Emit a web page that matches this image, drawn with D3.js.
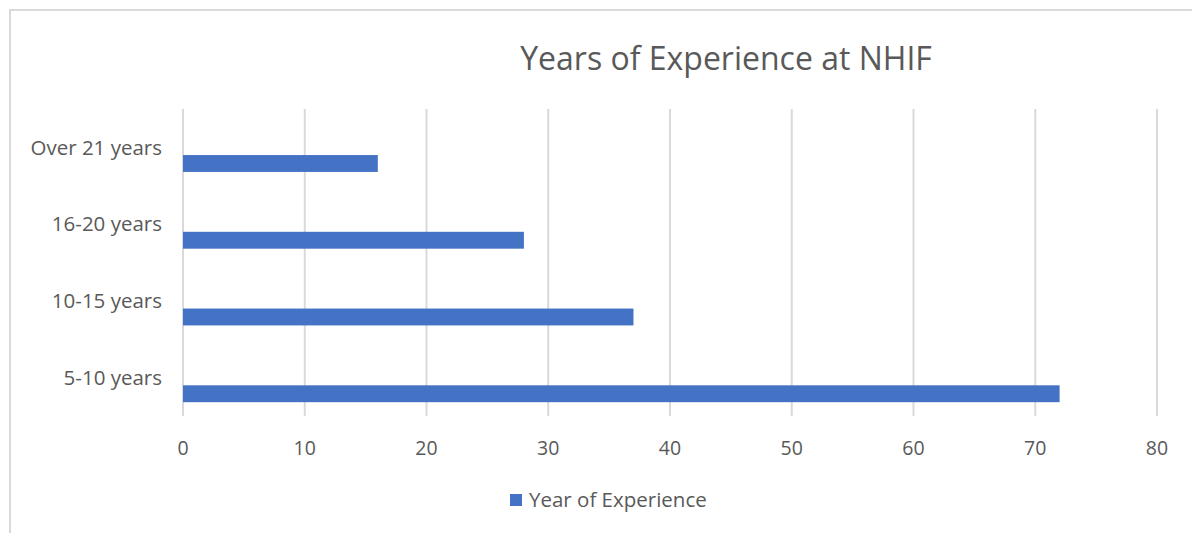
<!DOCTYPE html>
<head>
  <meta charset='utf-8'>
  <style>
      body { margin: 0; background: white; }
      text { font-family: 'Open Sans', Lato, sans-serif; fill: #595959; }
      .grid line { stroke: #d9d9d9; stroke-width: 2px; }
      .bar { fill: #4472c4; }
  </style>
</head>
<body>
<script src='https://d3js.org/d3.v7.min.js'></script>
<script>
    var categories = ['Over 21 years', '16-20 years', '10-15 years', '5-10 years'],
        values = [16, 28, 37, 72],
        xTicks = [0, 10, 20, 30, 40, 50, 60, 70, 80],
        seriesName = 'Year of Experience',
        title = 'Years of Experience at NHIF';

    var W = 1192, H = 533,
        plot = {left: 183, right: 1157, top: 109, bottom: 416};

    var svg = d3.select('body').append('svg')
        .attr('width', W)
        .attr('height', H);

    // chart border (runs off the picture on the right and bottom)
    svg.append('rect')
        .attr('x', 10).attr('y', 10)
        .attr('width', W + 20).attr('height', H + 20)
        .attr('fill', 'none')
        .attr('stroke', '#d9d9d9')
        .attr('stroke-width', 2);

    var x = d3.scaleLinear().domain([0, 80]).range([plot.left, plot.right]),
        y = d3.scaleBand().domain(categories).range([plot.top, plot.bottom]);

    svg.append('g').attr('class', 'grid')
        .selectAll('line')
        .data(xTicks)
        .enter().append('line')
        .attr('x1', x).attr('x2', x)
        .attr('y1', plot.top).attr('y2', plot.bottom);

    svg.append('g')
        .selectAll('rect')
        .data(values)
        .enter().append('rect')
        .attr('class', 'bar')
        .attr('x', x(0))
        .attr('y', function(d, i) { return y(categories[i]) + y.bandwidth() * 0.6; })
        .attr('height', y.bandwidth() * 0.22)
        .attr('width', function(d) { return x(d) - x(0); });

    svg.append('g')
        .selectAll('text')
        .data(categories)
        .enter().append('text')
        .attr('x', 162)
        .attr('y', function(d) { return y(d) + y.bandwidth() / 2; })
        .attr('dy', '0.35em')
        .attr('text-anchor', 'end')
        .style('font-size', '20.5px')
        .text(function(d) { return d; });

    svg.append('g')
        .selectAll('text')
        .data(xTicks)
        .enter().append('text')
        .attr('x', x)
        .attr('y', 455)
        .attr('text-anchor', 'middle')
        .style('font-size', '19.5px')
        .text(function(d) { return d; });

    svg.append('text')
        .attr('x', 726)
        .attr('y', 70)
        .attr('text-anchor', 'middle')
        .style('font-size', '32px')
        .text(title);

    svg.append('rect')
        .attr('class', 'bar')
        .attr('x', 510).attr('y', 494)
        .attr('width', 12).attr('height', 12);
    svg.append('text')
        .attr('x', 529)
        .attr('y', 507)
        .style('font-size', '20.5px')
        .text(seriesName);
</script>
</body>
